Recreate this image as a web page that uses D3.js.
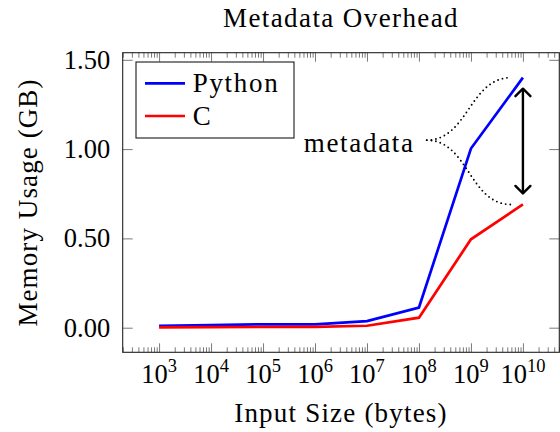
<!DOCTYPE html>
<html>
<head>
<meta charset="utf-8">
<script src="https://cdn.jsdelivr.net/npm/d3@7"></script>
</head>
<body style="margin:0;background:#fff">
<svg id="chart" width="560" height="432" style="display:block"></svg>
<script>
// Input sizes in bytes (log scale) and measured memory usage in GB
const sizes = [1e3, 1e4, 1e5, 1e6, 1e7, 1e8, 1e9, 1e10];
const sizeExponents = [3, 4, 5, 6, 7, 8, 9, 10];
const pythonGB = [0.010, 0.014, 0.019, 0.019, 0.037, 0.113, 1.003, 1.400];
const cGB = [0.002, 0.003, 0.004, 0.005, 0.011, 0.056, 0.495, 0.690];
const yTicks = [0, 0.5, 1.0, 1.5];
const seriesNames = ["Python", "C"];
const seriesColors = ["#0000ff", "#ff0000"];

const FONT = "Liberation Serif";
const svg = d3.select("#chart").attr("font-family", FONT);
const plot = { left: 122.7, right: 559.3, top: 52.7, bottom: 352.3 };

// pgfplots-style enlarged limits: 10% of the data range on every side
const xLogMin = Math.log10(d3.min(sizes)), xLogMax = Math.log10(d3.max(sizes));
const xPad = 0.1 * (xLogMax - xLogMin);
const x = d3.scaleLog()
  .domain([Math.pow(10, xLogMin - xPad), Math.pow(10, xLogMax + xPad)])
  .range([plot.left, plot.right]);

const yMin = d3.min(cGB.concat(pythonGB)), yMax = d3.max(cGB.concat(pythonGB));
const yPad = 0.1 * (yMax - yMin);
const y = d3.scaleLinear()
  .domain([yMin - yPad, yMax + yPad])
  .range([plot.bottom, plot.top]);

// Minor ticks on the log axis: 2..9 times each power of ten inside the domain
const [dLo, dHi] = x.domain();
const minorTicks = [];
for (let e = Math.floor(Math.log10(dLo)); e <= Math.ceil(Math.log10(dHi)); e++) {
  for (let m = 2; m <= 9; m++) {
    const v = m * Math.pow(10, e);
    if (v > dLo * 1.001 && v < dHi * 0.999) minorTicks.push(v);
  }
}

function styleAxis(g) {
  g.select(".domain").remove();
  g.selectAll(".tick line").attr("stroke", "#7a7a7a").attr("stroke-width", 1);
  g.selectAll(".tick text").remove();
}

// Inward ticks on all four sides
svg.append("g").attr("transform", `translate(0,${plot.bottom})`)
  .call(d3.axisBottom(x).tickValues(sizes).tickSize(-9)).call(styleAxis);
svg.append("g").attr("transform", `translate(0,${plot.bottom})`)
  .call(d3.axisBottom(x).tickValues(minorTicks).tickSize(-5)).call(styleAxis);
svg.append("g").attr("transform", `translate(0,${plot.top})`)
  .call(d3.axisTop(x).tickValues(sizes).tickSize(-9)).call(styleAxis);
svg.append("g").attr("transform", `translate(0,${plot.top})`)
  .call(d3.axisTop(x).tickValues(minorTicks).tickSize(-5)).call(styleAxis);
svg.append("g").attr("transform", `translate(${plot.left},0)`)
  .call(d3.axisLeft(y).tickValues(yTicks).tickSize(-10)).call(styleAxis);
svg.append("g").attr("transform", `translate(${plot.right},0)`)
  .call(d3.axisRight(y).tickValues(yTicks).tickSize(-10)).call(styleAxis);

// Frame
svg.append("rect")
  .attr("x", plot.left).attr("y", plot.top)
  .attr("width", plot.right - plot.left).attr("height", plot.bottom - plot.top)
  .attr("fill", "none").attr("stroke", "#222").attr("stroke-width", 1.1);

// Y tick labels
svg.append("g").selectAll("text").data(yTicks).join("text")
  .attr("font-family", FONT)
  .attr("x", plot.left - 12.5)
  .attr("y", d => y(d) + 9)
  .attr("text-anchor", "end")
  .attr("font-size", 26.5)
  .text(d => d3.format(".2f")(d));

// X tick labels: 10 with superscript exponent
const xl = svg.append("g").selectAll("text").data(sizes).join("text")
  .attr("font-family", FONT)
  .attr("x", d => x(d))
  .attr("y", plot.bottom + 31)
  .attr("text-anchor", "middle")
  .attr("font-size", 26.5);
xl.append("tspan").text("10");
xl.append("tspan")
  .attr("font-size", 18.5)
  .attr("dy", -11)
  .text((d, i) => sizeExponents[i]);

// Title and axis titles
svg.append("text").attr("font-family", FONT)
  .attr("x", (plot.left + plot.right) / 2).attr("y", 26.7)
  .attr("text-anchor", "middle").attr("font-size", 27).attr("letter-spacing", 1.4)
  .text("Metadata Overhead");
svg.append("text").attr("font-family", FONT)
  .attr("x", (plot.left + plot.right) / 2).attr("y", 421.7)
  .attr("text-anchor", "middle").attr("font-size", 27).attr("letter-spacing", 1.2)
  .text("Input Size (bytes)");
svg.append("text").attr("font-family", FONT)
  .attr("transform", `translate(37,${(plot.top + plot.bottom) / 2}) rotate(-90)`)
  .attr("text-anchor", "middle").attr("font-size", 27).attr("letter-spacing", 1.1)
  .text("Memory Usage (GB)");

// Data lines
const line = d3.line().x((d, i) => x(sizes[i])).y(d => y(d));
[pythonGB, cGB].forEach((vals, k) => {
  svg.append("path").datum(vals)
    .attr("d", line)
    .attr("fill", "none")
    .attr("stroke", seriesColors[k])
    .attr("stroke-width", 2.7)
    .attr("stroke-linejoin", "miter");
});

// Annotation: "metadata" label with dotted curves to the last points
const last = sizes.length - 1;
const anchor = { x: x(Math.pow(10, 8.15)), y: y(1.05) };
const curveEndOffset = 12;
[pythonGB[last], cGB[last]].forEach(v => {
  const ex = x(sizes[last]) - curveEndOffset, ey = y(v);
  const dist = Math.hypot(ex - anchor.x, ey - anchor.y);
  const k = 0.3915 * dist;
  const p = d3.path();
  p.moveTo(anchor.x, anchor.y);
  p.bezierCurveTo(anchor.x + k, anchor.y, ex - k, ey, ex, ey);
  svg.append("path").attr("d", p.toString())
    .attr("fill", "none").attr("stroke", "#000")
    .attr("stroke-width", 1.9).attr("stroke-linecap", "round")
    .attr("stroke-dasharray", "0 4.6");
});
svg.append("text").attr("font-family", FONT)
  .attr("x", anchor.x - 12).attr("y", anchor.y + 11.7)
  .attr("text-anchor", "end").attr("font-size", 27).attr("letter-spacing", 1.7)
  .text("metadata");

// Double-headed arrow spanning the gap between the two series
const ax = x(sizes[last]);
const arrowTop = y(pythonGB[last]) + 11, arrowBot = y(cGB[last]) - 11;
svg.append("line")
  .attr("x1", ax).attr("x2", ax).attr("y1", arrowTop).attr("y2", arrowBot)
  .attr("stroke", "#000").attr("stroke-width", 2.4);
const head = 7.5;
[[arrowTop, 1], [arrowBot, -1]].forEach(([yy, dir]) => {
  svg.append("path")
    .attr("d", `M${ax - head},${yy + dir * head} L${ax},${yy} L${ax + head},${yy + dir * head}`)
    .attr("fill", "none").attr("stroke", "#000").attr("stroke-width", 2.4)
    .attr("stroke-linejoin", "round").attr("stroke-linecap", "round");
});

// Legend
const legend = svg.append("g");
legend.append("rect")
  .attr("x", 136).attr("y", 62).attr("width", 158).attr("height", 76)
  .attr("fill", "#fff").attr("stroke", "#1a1a1a").attr("stroke-width", 1.1);
seriesNames.forEach((name, i) => {
  const ly = 83.3 + i * 32.7;
  legend.append("line")
    .attr("x1", 145).attr("x2", 185).attr("y1", ly).attr("y2", ly)
    .attr("stroke", seriesColors[i]).attr("stroke-width", 2.7);
  legend.append("text").attr("font-family", FONT)
    .attr("x", 192.7).attr("y", ly + 8.5)
    .attr("font-size", 27).attr("letter-spacing", 1.7)
    .text(name);
});
</script>
</body>
</html>
